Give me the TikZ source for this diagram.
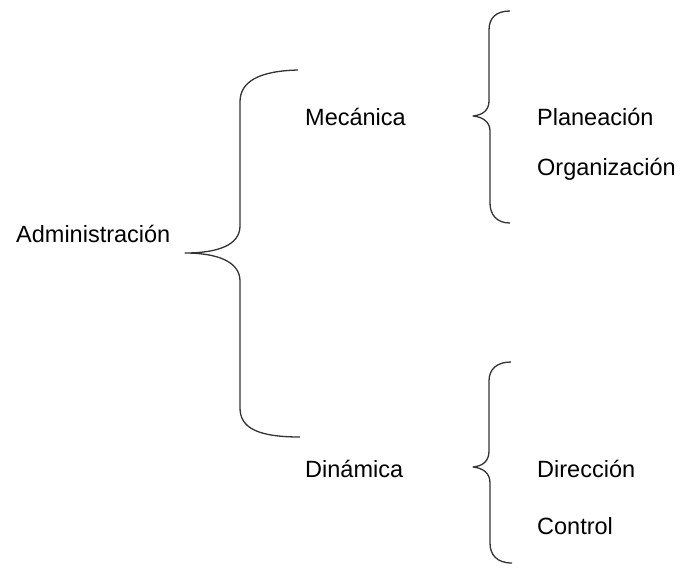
\documentclass[tikz,border=0pt]{standalone}
\usepackage{fontspec}
\setmainfont{Liberation Sans}
\begin{document}
\begin{tikzpicture}[x=1pt,y=-1pt,
  lbl/.style={anchor=base west,inner sep=0pt,font=\fontsize{23.5}{28}\selectfont},
  brace/.style={line width=1.3pt,draw=black!80,line join=round}]
\useasboundingbox (0,0) rectangle (693,576);
\node[lbl] (adm) at (16,242) {Administración};
\node[lbl] (mec) at (305,125) {Mecánica};
\node[lbl] (din) at (305,477) {Dinámica};
\node[lbl] (pla) at (537,125) {Planeación};
\node[lbl] (org) at (537,175) {Organización};
\node[lbl] (dir) at (537,477) {Dirección};
\node[lbl] (con) at (537,534) {Control};
% big brace
\draw[brace] (298,70) .. controls (258,71) and (240,82) .. (240,102)
  -- (240,226) .. controls (240,245) and (218,253) .. (185,253)
  .. controls (218,253) and (240,262) .. (240,281)
  -- (240,408) .. controls (240,428) and (258,437) .. (300,437);
% small brace 1
\draw[brace] (510,11) .. controls (496,11) and (489,18) .. (489,30)
  -- (489,101) .. controls (489,110) and (483,115) .. (473,116)
  .. controls (483,117) and (490,122) .. (490,131)
  -- (490,203) .. controls (490,215) and (497,223) .. (510,223);
% small brace 2
\draw[brace] (511,362) .. controls (497,362) and (489,369) .. (489,381)
  -- (489,451) .. controls (489,461) and (483,466) .. (473,467)
  .. controls (483,468) and (490,473) .. (490,483)
  -- (490,543) .. controls (490,555) and (497,563) .. (512,563);
\end{tikzpicture}
\end{document}
